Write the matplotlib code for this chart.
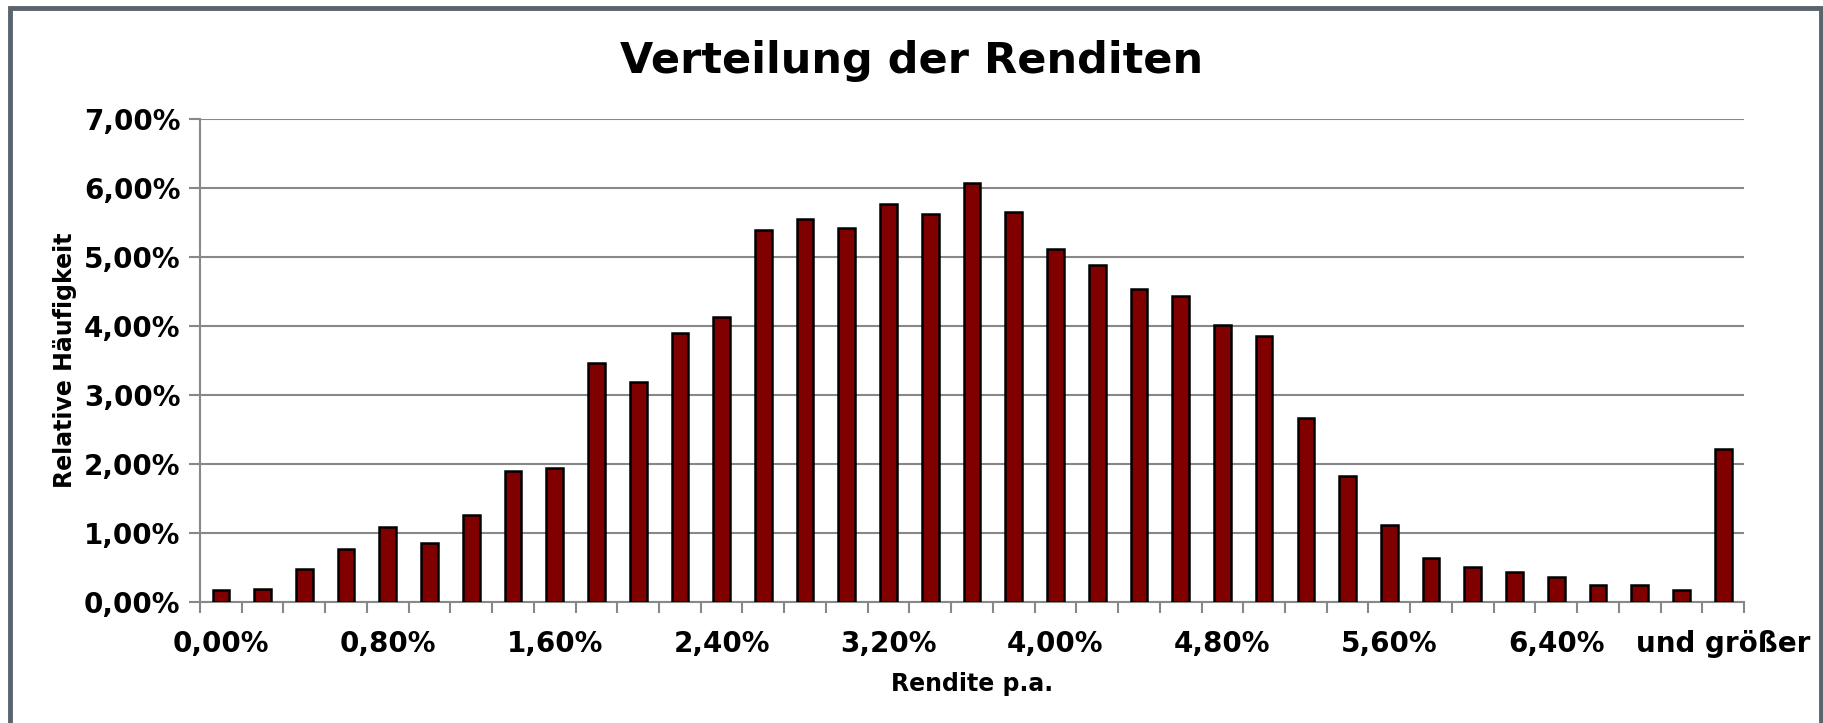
import matplotlib
matplotlib.use('Agg')
import matplotlib.pyplot as plt
import matplotlib.patches as mpatches
import numpy as np

# Klassen (Rendite p.a.) und relative Haeufigkeiten in %
klassen = ['0,00%', '0,20%', '0,40%', '0,60%', '0,80%', '1,00%', '1,20%', '1,40%',
           '1,60%', '1,80%', '2,00%', '2,20%', '2,40%', '2,60%', '2,80%', '3,00%',
           '3,20%', '3,40%', '3,60%', '3,80%', '4,00%', '4,20%', '4,40%', '4,60%',
           '4,80%', '5,00%', '5,20%', '5,40%', '5,60%', '5,80%', '6,00%', '6,20%',
           '6,40%', '6,60%', '6,80%', '7,00%', 'und größer']
haeufigkeit = [0.18, 0.19, 0.48, 0.77, 1.08, 0.85, 1.26, 1.90, 1.94, 3.47, 3.19,
               3.90, 4.13, 5.39, 5.55, 5.42, 5.77, 5.62, 6.07, 5.65, 5.11, 4.88,
               4.53, 4.43, 4.01, 3.85, 2.66, 1.83, 1.11, 0.64, 0.51, 0.43, 0.36,
               0.24, 0.25, 0.17, 2.22]
y_ticks = [0, 1, 2, 3, 4, 5, 6, 7]

plt.rcParams['font.family'] = ['DejaVu Sans']
plt.rcParams['font.weight'] = 'bold'

fig = plt.figure(figsize=(18.23, 7.23), dpi=100)
ax = fig.add_axes([0.1097, 0.1674, 0.8470, 0.6680])

x = np.arange(len(klassen))
ax.bar(x, haeufigkeit, width=0.4, color='#800000', edgecolor='black',
       linewidth=1.8, zorder=3)

ax.set_xlim(-0.5, len(klassen) - 0.5)
ax.set_ylim(0, 7)
ax.set_yticks(y_ticks)
ax.set_yticklabels([f'{v:.2f}%'.replace('.', ',') for v in y_ticks], fontsize=20,
                   fontweight='bold')

# Beschriftung nur jede vierte Klasse, Striche zwischen den Klassen
ax.set_xticks(x[::4])
ax.set_xticklabels([klassen[i] for i in x[::4]], fontsize=20, fontweight='bold')
ax.tick_params(axis='x', length=0, pad=20)
ax.set_xticks(np.arange(len(klassen) + 1) - 0.5, minor=True)
ax.tick_params(axis='x', which='minor', length=8, width=1.5, color='#888888')
ax.tick_params(axis='y', length=8, width=1.5, color='#888888', pad=6)

ax.grid(axis='y', color='#888888', linewidth=1.5, zorder=0)
for side in ['top', 'right']:
    ax.spines[side].set_visible(False)
for side in ['left', 'bottom']:
    ax.spines[side].set_color('#888888')
    ax.spines[side].set_linewidth(1.5)

ax.set_xlabel('Rendite p.a.', fontsize=17, fontweight='bold', labelpad=10)
ax.set_ylabel('Relative Häufigkeit', fontsize=17, fontweight='bold', labelpad=5)
fig.text(0.5, 0.915, 'Verteilung der Renditen', ha='center', va='center',
         fontsize=31, fontweight='bold')

# Rahmen um das Diagramm
rahmen = mpatches.Rectangle((10 / 1823, -0.1), 1811 / 1823, 1.1 - 8 / 723,
                            transform=fig.transFigure, fill=False,
                            edgecolor='#5a646c', linewidth=3.5)
fig.patches.append(rahmen)

fig.savefig('out.png', dpi=100)
